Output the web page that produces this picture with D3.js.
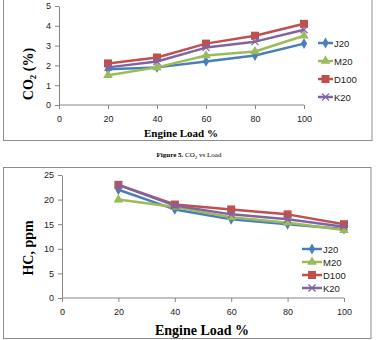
<!DOCTYPE html>
<html>
<head>
<meta charset="utf-8">
<script src="https://cdn.jsdelivr.net/npm/d3@7"></script>
<style>
  body { margin: 0; background: #fff; }
  svg { display: block; }
  .axis path, .axis line { stroke: #868686; }
  .axis text { font-family: "Liberation Sans", Arial, sans-serif; font-size: 9px; fill: #222; }
</style>
</head>
<body>
<script>
// engine load categories
const loads = [20, 40, 60, 80, 100]
const seriesNames = ['J20', 'M20', 'D100', 'K20']

// CO2 (%)
const co2J20 = [1.8, 1.9, 2.2, 2.5, 3.1]
const co2M20 = [1.5, 1.9, 2.5, 2.7, 3.5]
const co2D100 = [2.1, 2.4, 3.1, 3.5, 4.1]
const co2K20 = [1.9, 2.2, 2.9, 3.2, 3.8]

// HC, ppm
const hcJ20 = [22, 18, 16, 15, 14]
const hcM20 = [20, 18.5, 16.4, 15.3, 13.8]
const hcD100 = [23, 19, 18, 17, 15]
const hcK20 = [23, 18.8, 17, 16, 14.5]

const xTicks = [0, 20, 40, 60, 80, 100]
const co2Ticks = [0, 1, 2, 3, 4, 5]
const hcTicks = [0, 5, 10, 15, 20, 25]

const colors = { J20: '#4a7ebb', M20: '#9bbb59', D100: '#c0504d', K20: '#8064a2' }
const markers = { J20: 'diamond', M20: 'triangle', D100: 'square', K20: 'cross' }

const svg = d3.select('body').append('svg').attr('width', 377).attr('height', 340)
svg.append('rect').attr('width', 377).attr('height', 340).attr('fill', '#fff')

function drawMarker(g, name, x, y) {
	const c = colors[name]
	const m = markers[name]
	if (m === 'diamond') {
		g.append('path').attr('d', d3.symbol(d3.symbolDiamond, 34)()).attr('transform', `translate(${x},${y})`).attr('fill', c)
	} else if (m === 'triangle') {
		g.append('path').attr('d', d3.symbol(d3.symbolTriangle, 40)()).attr('transform', `translate(${x},${y})`).attr('fill', c)
	} else if (m === 'square') {
		g.append('rect').attr('x', x - 4).attr('y', y - 4).attr('width', 8).attr('height', 8).attr('fill', c)
	} else {
		g.append('path').attr('d', d3.symbol(d3.symbolX, 34)()).attr('transform', `translate(${x},${y})`)
			.attr('fill', 'none').attr('stroke', c).attr('stroke-width', 1.2)
	}
}

function drawChart(opt) {
	const g = svg.append('g')
	// frame
	g.append('rect').attr('x', opt.frame[0]).attr('y', opt.frame[1]).attr('width', opt.frame[2]).attr('height', opt.frame[3])
		.attr('fill', 'none').attr('stroke', '#8c8c8c').attr('stroke-width', 1)

	const x = d3.scaleLinear().domain([0, 100]).range(opt.xRange)
	const y = d3.scaleLinear().domain([0, opt.yMax]).range(opt.yRange)

	g.append('g').attr('class', 'axis').attr('transform', `translate(${opt.xRange[0]},0)`)
		.call(d3.axisLeft(y).tickValues(opt.yTicks).tickFormat(d3.format('d')).tickSize(4).tickSizeOuter(0).tickPadding(4))
	const xa = g.append('g').attr('class', 'axis').attr('transform', `translate(0,${opt.yRange[0]})`)
		.call(d3.axisBottom(x).tickValues(xTicks).tickFormat(d3.format('d')).tickSize(4).tickSizeOuter(0).tickPadding(7))
	xa.select('.domain').remove()
	xa.append('line').attr('x1', opt.xRange[0]).attr('x2', opt.xRange[1]).attr('stroke', '#868686')

	const line = d3.line().x((d, i) => x(loads[i])).y(d => y(d))
	seriesNames.forEach(name => {
		const vals = opt.data[name]
		g.append('path').datum(vals).attr('d', line).attr('fill', 'none')
			.attr('stroke', colors[name]).attr('stroke-width', 2.5).attr('stroke-linejoin', 'round')
		vals.forEach((v, i) => drawMarker(g, name, x(loads[i]), y(v)))
	})

	// legend
	seriesNames.forEach((name, i) => {
		const ly = opt.legend.y + i * opt.legend.step
		g.append('line').attr('x1', opt.legend.x).attr('x2', opt.legend.x + opt.legend.w)
			.attr('y1', ly).attr('y2', ly).attr('stroke', colors[name]).attr('stroke-width', 2.5)
		drawMarker(g, name, opt.legend.x + opt.legend.w / 2, ly)
		g.append('text').attr('x', opt.legend.x + opt.legend.w + 1).attr('y', ly + 3.5)
			.style('font-family', '"Liberation Sans", Arial, sans-serif').style('font-size', '9.5px').attr('fill', '#222')
			.text(name)
	})

	// x title
	g.append('text').attr('x', opt.xTitle[0]).attr('y', opt.xTitle[1]).attr('text-anchor', 'middle')
		.style('font-family', '"Liberation Serif", "Times New Roman", serif').style('font-weight', 'bold')
		.style('font-size', opt.xTitle[2] + 'px').text('Engine Load %')

	// y title
	const yt = g.append('text').attr('transform', `translate(${opt.yTitle[0]},${opt.yTitle[1]}) rotate(-90)`)
		.attr('text-anchor', 'middle')
		.style('font-family', '"Liberation Serif", "Times New Roman", serif').style('font-weight', 'bold')
		.style('font-size', opt.yTitle[2] + 'px')
	opt.yLabel(yt)
}

drawChart({
	frame: [3.5, -5, 368.5, 145.5],
	xRange: [59, 304], yRange: [105, 6], yMax: 5, yTicks: co2Ticks,
	data: { J20: co2J20, M20: co2M20, D100: co2D100, K20: co2K20 },
	legend: { x: 318, w: 15, y: 43, step: 18 },
	xTitle: [181, 137, 11],
	yTitle: [33, 74, 14],
	yLabel: t => {
		t.append('tspan').text('CO')
		t.append('tspan').attr('dy', 3).style('font-size', '9px').text('2')
		t.append('tspan').attr('dy', -3).text(' (%)')
	}
})

drawChart({
	frame: [3.5, 167.5, 367.5, 171],
	xRange: [62, 344], yRange: [298, 175], yMax: 25, yTicks: hcTicks,
	data: { J20: hcJ20, M20: hcM20, D100: hcD100, K20: hcK20 },
	legend: { x: 302, w: 20, y: 249, step: 13 },
	xTitle: [202, 335, 14],
	yTitle: [33, 248, 14],
	yLabel: t => t.text('HC, ppm')
})

// caption
const cap = svg.append('text').attr('x', 189).attr('y', 157).attr('text-anchor', 'middle')
	.style('font-family', '"Liberation Serif", "Times New Roman", serif').style('font-size', '7px')
cap.append('tspan').style('font-weight', 'bold').text('Figure 5.')
cap.append('tspan').text(' CO')
cap.append('tspan').attr('dy', 1.5).style('font-size', '5px').text('2')
cap.append('tspan').attr('dy', -1.5).text(' vs Load')
</script>
</body>
</html>
